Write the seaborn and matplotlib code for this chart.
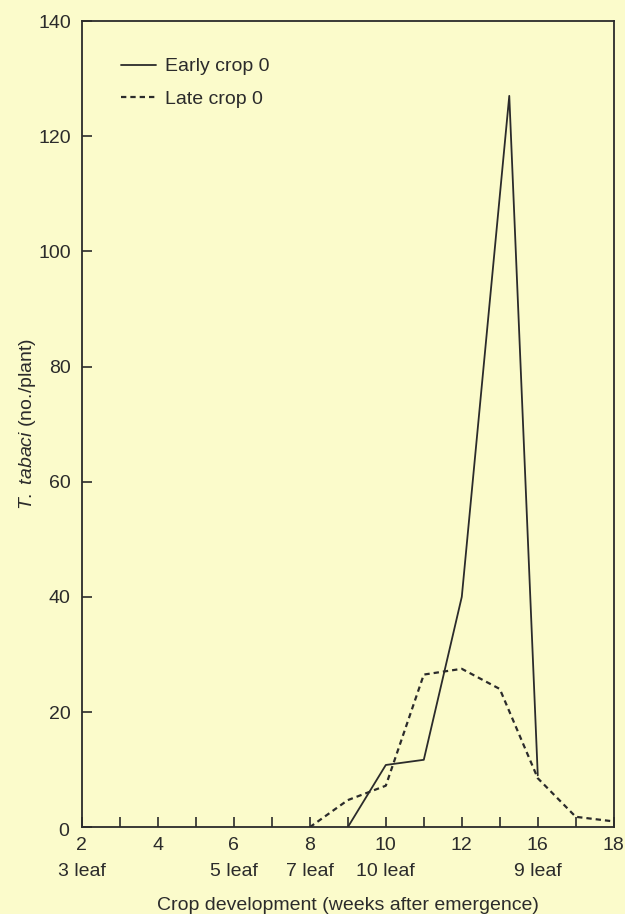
import matplotlib
matplotlib.use("Agg")
import matplotlib.pyplot as plt
import matplotlib.transforms as mtransforms
import pandas as pd
import seaborn as sns

# x is in tick positions (one tick per week on the printed axis)
early_x = [9, 10, 11, 12, 13.25, 14]
early_y = [0, 10.8, 11.7, 40, 127, 9]
late_x = [8, 9, 10, 11, 12, 13, 14, 15, 16]
late_y = [0, 4.7, 7.2, 26.5, 27.5, 24, 8.5, 1.8, 1]

tick_pos = [2, 4, 6, 8, 10, 12, 14, 16]
tick_labels = ["2", "4", "6", "8", "10", "12", "16", "18"]
leaf_pos = [2, 6, 8, 10, 14]
leaf_labels = ["3 leaf", "5 leaf", "7 leaf", "10 leaf", "9 leaf"]
minor_pos = [3, 5, 7, 9, 11, 13, 15]
y_ticks = [0, 20, 40, 60, 80, 100, 120, 140]

df = pd.concat([
    pd.DataFrame({"week": early_x, "count": early_y, "crop": "Early crop 0"}),
    pd.DataFrame({"week": late_x, "count": late_y, "crop": "Late crop 0"}),
])

bg = "#FBFBCB"
ink = "#2b2b2b"
sns.set_style("ticks")
plt.rcParams["font.family"] = ["Liberation Sans", "DejaVu Sans"]
plt.rcParams["font.size"] = 14
plt.rcParams["mathtext.fontset"] = "custom"
plt.rcParams["mathtext.rm"] = "Liberation Sans"
plt.rcParams["mathtext.it"] = "Liberation Sans:italic"

fig = plt.figure(figsize=(6.25, 9.14), dpi=100, facecolor=bg)
ax = fig.add_axes([0.131, 0.095, 0.851, 0.882])
ax.set_facecolor(bg)

sns.lineplot(data=df, x="week", y="count", style="crop",
             dashes={"Early crop 0": "", "Late crop 0": (2.4, 1.8)},
             color=ink, linewidth=1.3, ax=ax, sort=False)
for ln in ax.get_lines():
    if ln.get_linestyle() != "-":
        ln.set_linewidth(1.6)

ax.set_xlim(2, 16)
ax.set_ylim(0, 140)
ax.set_xticks(tick_pos)
ax.set_xticklabels(tick_labels, fontsize=14, color=ink)
ax.set_xticks(minor_pos, minor=True)
ax.set_yticks(y_ticks)
ax.set_yticklabels([str(v) for v in y_ticks], fontsize=14, color=ink)
ax.tick_params(axis="both", which="both", direction="in", length=7, width=1.2, color=ink)
ax.tick_params(axis="x", which="both", pad=7)
ax.tick_params(axis="y", pad=8)

# growth stage row under the week numbers
leaf = ax.secondary_xaxis("bottom")
leaf.set_xticks(leaf_pos)
leaf.set_xticklabels(leaf_labels, fontsize=14, color=ink)
leaf.tick_params(axis="x", length=0, pad=26)
leaf.spines["bottom"].set_visible(False)

# the zero label sits a little low, as printed
zero = ax.get_yticklabels()[0]
zero.set_transform(zero.get_transform() + mtransforms.ScaledTranslation(-1.5 / 72, -2 / 72, fig.dpi_scale_trans))

for s in ax.spines.values():
    s.set_visible(True)
    s.set_color(ink)
    s.set_linewidth(1.3)

ax.set_xlabel("")
leaf.set_xlabel("Crop development (weeks after emergence)", fontsize=14, color=ink, labelpad=12)
ax.set_ylabel(r"$\mathit{T.\ tabaci}$ (no./plant)", fontsize=14, color=ink, labelpad=0)

leg = ax.legend(loc="upper left", frameon=False, fontsize=14, handlelength=1.8,
                handletextpad=0.5, labelspacing=0.75, bbox_to_anchor=(0.04, 0.976))
for t in leg.get_texts():
    t.set_color(ink)

fig.savefig("out.png", dpi=100, facecolor=bg)
